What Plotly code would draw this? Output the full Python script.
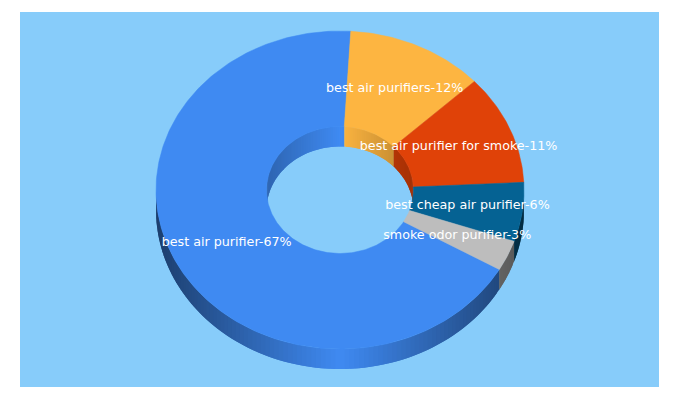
import math
import plotly.graph_objects as go

categories = ["best air purifier", "best air purifiers", "best air purifier for smoke",
              "best cheap air purifier", "smoke odor purifier"]
shares = [67.6, 12.1, 11.2, 6.0, 3.1]
shown_percent = [67, 12, 11, 6, 3]
colors = ["#3F8AF2", "#FDB541", "#E04208", "#056293", "#BDBDBD"]

BG = "#87CCFA"
CX, CY = 340.0, 190.0
RX, RY = 184.0, 159.0
IRX, IRY = 73.5, 63.5
DEPTH = 20.0
START = 120.0


def hex_rgb(h):
    return tuple(int(h[i:i + 2], 16) for i in (1, 3, 5))


def shade(h, f):
    r, g, b = hex_rgb(h)
    return f"rgb({r * f:.0f},{g * f:.0f},{b * f:.0f})"


def pt(a, rx, ry, dy=0.0):
    t = math.radians(a)
    return CX + rx * math.sin(t), CY - ry * math.cos(t) + dy


def arc(a0, a1, rx, ry, dy=0.0):
    n = max(2, int(abs(a1 - a0) / 1.0) + 1)
    pts = [pt(a0 + (a1 - a0) * i / n, rx, ry, dy) for i in range(n + 1)]
    return [p[0] for p in pts], [p[1] for p in pts]


# slice spans, clockwise from top
spans = []
a = START
total = sum(shares)
for s in shares:
    spans.append((a, a + s / total * 360))
    a += s / total * 360

fig = go.Figure()


def poly(xs, ys, color, width=0.0):
    fig.add_trace(go.Scatter(x=xs + xs[:1], y=ys + ys[:1], mode="lines", fill="toself",
                             fillcolor=color, line=dict(color=color, width=width),
                             hoverinfo="skip", showlegend=False))


def wall(a0, a1, rx, ry, color, k):
    step = 1.5
    n = max(1, int(math.ceil((a1 - a0) / step)))
    for i in range(n):
        u0 = a0 + (a1 - a0) * i / n
        u1 = a0 + (a1 - a0) * (i + 1) / n
        # each strip runs under the next one so no seam shows
        u2 = min(a1, u1 + (u1 - u0))
        xt, yt = arc(u0, u2, rx, ry)
        xb, yb = arc(u0, u2, rx, ry, DEPTH)
        mid = pt((u0 + u1) / 2, rx, ry)[0]
        f = 1 - k * abs(mid - CX) / rx
        poly(xt + xb[::-1], yt + yb[::-1], shade(color, f))


# inner walls: rear half of the hole (270..450 degrees clockwise from top)
for (a0, a1), c in zip(spans, colors):
    for off in (0, 360):
        lo, hi = max(a0, 270 + off), min(a1, 450 + off)
        if lo < hi:
            wall(lo, hi, IRX, IRY, c, 0.27)

# outer walls: front half (90..270), drawn one turn on for slices past the top
for (a0, a1), c in zip(spans, colors):
    for off in (0, 360):
        lo, hi = max(a0, 90 + off), min(a1, 270 + off)
        if lo < hi:
            wall(lo, hi, RX, RY, c, 0.55)

# top faces
for (a0, a1), c in zip(spans, colors):
    xo, yo = arc(a0, a1, RX, RY)
    xi, yi = arc(a0, a1, IRX, IRY)
    poly(xo + xi[::-1], yo + yi[::-1], c, 0.5)

# labels at mid-ring of each slice
lx, ly, lt = [], [], []
for (a0, a1), name, p in zip(spans, categories, shown_percent):
    x, y = pt((a0 + a1) / 2, (RX + IRX) / 2, (RY + IRY) / 2)
    lx.append(x)
    ly.append(y)
    lt.append(f"{name}-{p}%")
fig.add_trace(go.Scatter(x=lx, y=ly, mode="text", text=lt, textposition="middle center",
                         textfont=dict(family="DejaVu Sans", size=12.7, color="white"),
                         hoverinfo="skip", showlegend=False, cliponaxis=False))

fig.update_layout(
    width=680, height=400, paper_bgcolor="white", plot_bgcolor=BG,
    margin=dict(l=20, r=21, t=12, b=13), showlegend=False,
    xaxis=dict(range=[20, 659], visible=False, fixedrange=True),
    yaxis=dict(range=[387, 12], visible=False, fixedrange=True),
)
fig.write_html("out.html", config={"displayModeBar": False},
               post_script="document.body.style.margin='0';document.documentElement.style.overflow='hidden';")
